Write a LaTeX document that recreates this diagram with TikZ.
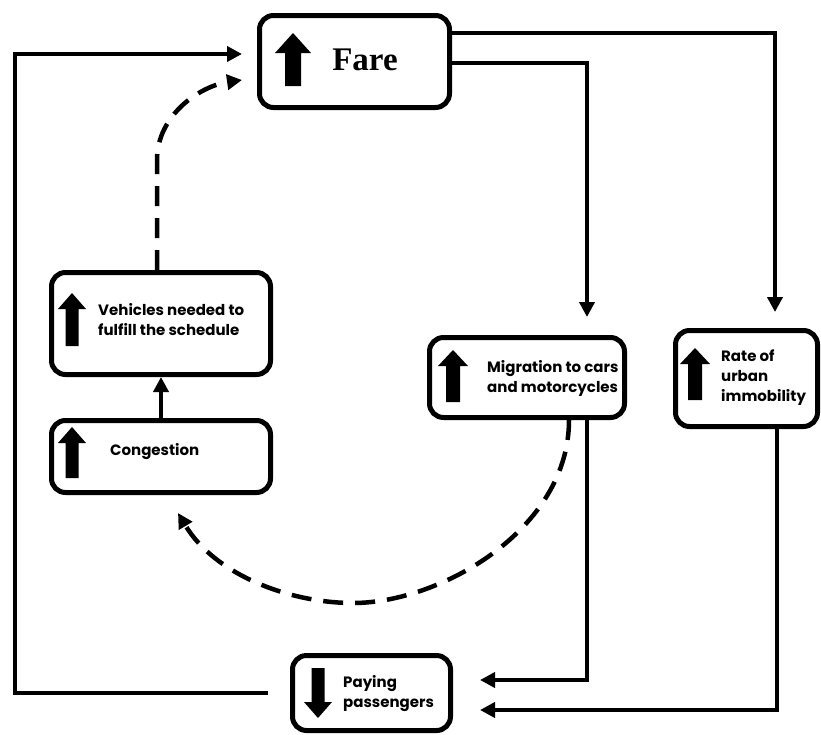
\documentclass[tikz,border=0pt]{standalone}
\usepackage{fontspec}
\setmainfont{Liberation Serif}
\newfontfamily\popfont{Poppins}
\usetikzlibrary{arrows.meta}
\newcommand\blockarr[6]{% x, tip y, base y, shaft half, head half, head length
  \fill ({#1-#4},{#3}) -- ({#1-#4},{#2+#6}) -- ({#1-#5},{#2+#6}) -- ({#1},{#2})
        -- ({#1+#5},{#2+#6}) -- ({#1+#4},{#2+#6}) -- ({#1+#4},{#3}) -- cycle;}
\tikzset{
  box/.style={draw, line width=5pt, rounded corners=14pt, inner sep=0pt},
  conn/.style={line width=4.5pt, -{Triangle[length=15pt,width=15pt]}},
  dashconn/.style={conn, dash pattern=on 20pt off 12pt},
  lbl/.style={anchor=west, align=left, inner sep=0pt,
    font=\popfont\bfseries\fontsize{15}{20}\selectfont},
}
\begin{document}
\begin{tikzpicture}[x=1pt,y=-1pt]
\useasboundingbox (0,0) rectangle (821,734);
% boxes
\node[box, minimum width=190pt, minimum height=92pt] (fare) at (354.5,61.5) {};
\node[box, minimum width=219pt, minimum height=102pt] (veh) at (161,323.5) {};
\node[box, minimum width=219pt, minimum height=72pt] (cong) at (161,456.5) {};
\node[box, minimum width=195pt, minimum height=80pt] (mig) at (527,377.5) {};
\node[box, minimum width=142pt, minimum height=96pt] (rate) at (746.5,378.5) {};
\node[box, minimum width=158pt, minimum height=75pt] (pay) at (371.5,693) {};
% texts
\node[inner sep=0pt, font=\bfseries\fontsize{33}{36}\selectfont] (faretxt) at (365,60) {Fare};
\node[lbl] (vehtxt) at (98,320) {Vehicles needed to\\fulfill the schedule};
\node[lbl] (congtxt) at (110,452) {Congestion};
\node[lbl] (migtxt) at (487,378) {Migration to cars\\and motorcycles};
\node[lbl] (ratetxt) at (721,378) {Rate of\\urban\\immobility};
\node[lbl] (paytxt) at (343,694) {Paying\\passengers};
% block arrows
\blockarr{293}{33}{86}{8}{18}{20}
\blockarr{72}{293}{346}{6.5}{14}{16}
\blockarr{72}{427}{478}{6.5}{14}{16}
\blockarr{453}{350}{402}{7}{15}{16}
\blockarr{695}{348}{400}{7}{15}{16}
\blockarr{318}{718}{668}{6.5}{14}{-16}
% coordinates for free ends
\coordinate (lc) at (15,54);
\coordinate (fd) at (242,80);
\coordinate (cd) at (178,513);
% connectors
\draw[conn, shorten >=16pt] ([yshift=28.5pt]fare.east) -| ([xshift=28.5pt]rate.north);
\draw[conn, shorten >=18pt] ([yshift=-1.5pt]fare.east) -| ([xshift=60pt]mig.north);
\draw[conn, shorten >=27pt] ([xshift=60pt]mig.south) |- ([yshift=13pt]pay.east);
\draw[conn, shorten >=27pt] ([xshift=30.5pt]rate.south) |- ([yshift=-17pt]pay.east);
\draw[conn, shorten <=22pt, shorten >=15pt] (pay.west) -| (lc) -- (lc -| fare.west);
\draw[conn] (cong.north) -- (veh.south);
\draw[dashconn] ([xshift=-4pt]veh.north) -- ++(0,-110) .. controls (157,115) and (200,86) .. (fd);
\draw[dashconn] ([xshift=42pt]mig.south) .. controls (569,530) and (440,603) .. (353,603)
  .. controls (290,603) and (215,575) .. (cd);
\end{tikzpicture}
\end{document}
